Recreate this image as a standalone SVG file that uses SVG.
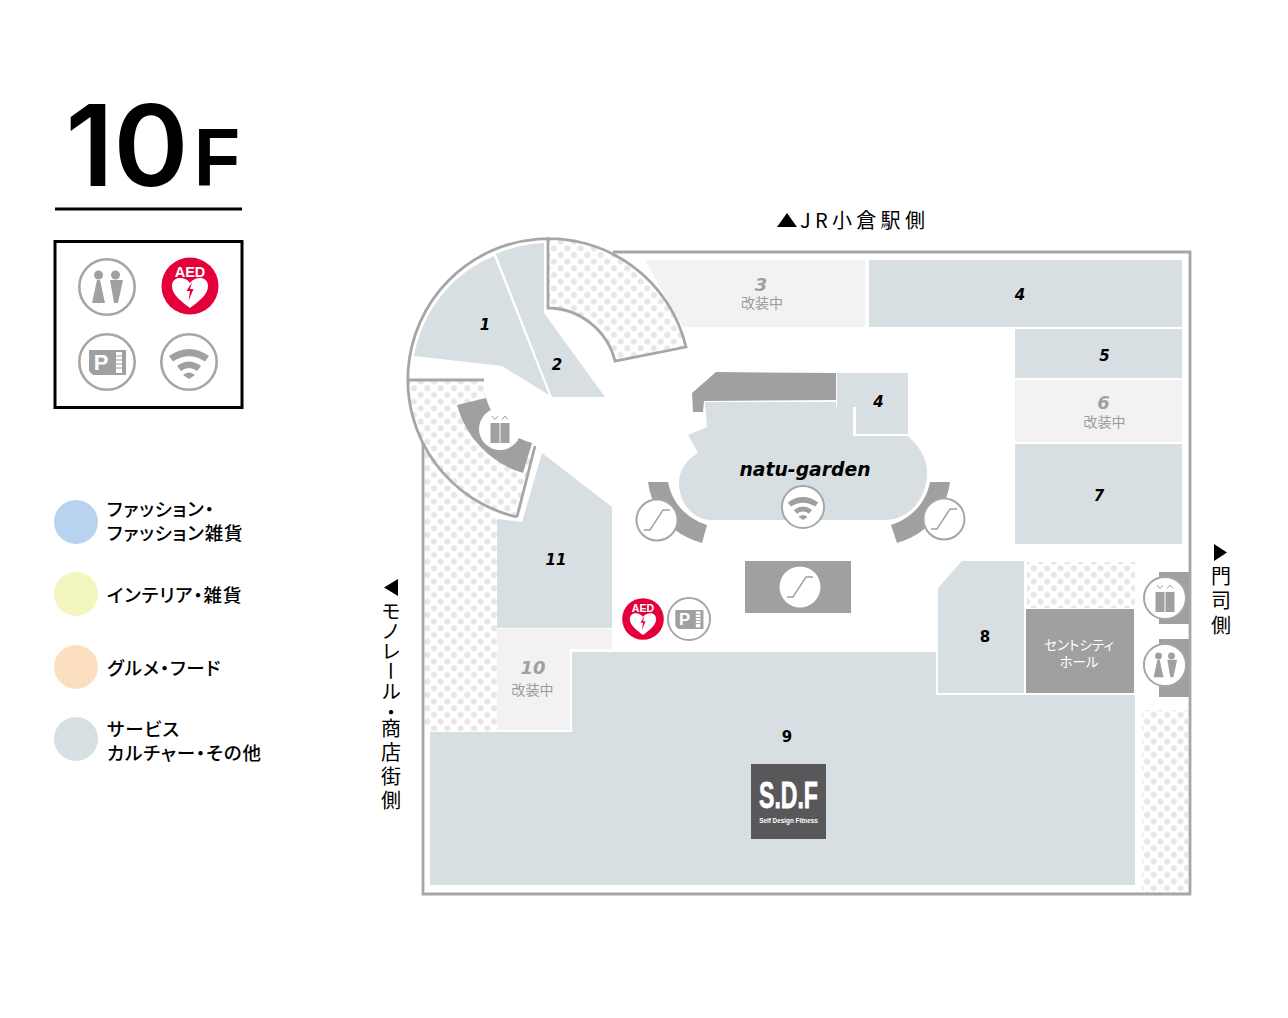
<svg xmlns="http://www.w3.org/2000/svg" width="1288" height="1018" viewBox="0 0 1288 1018">
<style>
.r{fill:#d7dfe2}.l{fill:#f2f2f2}.d{fill:#a0a0a0}.s{fill:url(#dots)}
.n{font-family:"DejaVu Sans",sans-serif;font-weight:700;font-style:italic;font-size:15px;text-anchor:middle;fill:#000}
.g{fill:#a0a0a0;font-size:18px}
.j{font-family:"Noto Sans CJK JP",sans-serif;fill:#000}
.k{font-size:14px;fill:#9a9a9a;text-anchor:middle}
.leg{font-size:18.500px;font-weight:500;font-feature-settings:"palt";letter-spacing:.9px}
.v{font-size:20px;writing-mode:vertical-rl}
.o{fill:none;stroke:#a6a6a6;stroke-width:2.800}
.h{font-size:13.500px;fill:#fff;text-anchor:middle;font-feature-settings:"palt"}
</style>
<defs>
<pattern id="dots" width="13.33" height="13.33" patternUnits="userSpaceOnUse" x="10.8" y="11.8">
<rect width="13.33" height="13.33" fill="#fff"/>
<circle cx="3.300" cy="3.300" r="3" fill="#e6e6e6"/><circle cx="9.970" cy="9.970" r="3" fill="#e6e6e6"/>
</pattern>
<g id="ring"><circle r="27.700" fill="#fff" stroke="#a6a6a6" stroke-width="2.600"/></g>
<g id="wc"><use href="#ring"/><circle cx="-8.500" cy="-12" r="4.500" fill="#a0a0a0"/><circle cx="8.500" cy="-12" r="4.500" fill="#a0a0a0"/><path d="M-10-7H-7L-2 16H-15ZM3-7H16L11 16H7Z" fill="#a0a0a0"/></g>
<g id="wifi"><use href="#ring"/><path d="M-20-6Q0-20 20-6L16-.5Q0-11-16-.5ZM-12 4Q0-5 12 4L8 9Q0 3-8 9ZM-6 13Q0 8 6 13L0 17Z" fill="#a0a0a0"/></g>
<g id="park"><use href="#ring"/><path d="M-18-12H19V13H-14L-18 9Z" fill="#a0a0a0"/><rect x="9" y="-10" width="6" height="21" fill="#fff"/><path d="M9-6H15M9-2H15M9 2H15M9 6H15" stroke="#a0a0a0" stroke-width="1.200"/><text x="-6" y="8" font-family="Liberation Sans,sans-serif" font-weight="700" font-size="22" fill="#fff" text-anchor="middle">P</text></g>
<g id="aed"><circle r="28.500" fill="#e5003c"/><text y="-9.500" font-family="Liberation Sans,sans-serif" font-size="14.500" font-weight="700" fill="#fff" text-anchor="middle">AED</text><path d="M0 22C-9 15-18 9-18 0C-18-10-5-10 0-3C5-10 18-10 18 0C18 9 9 15 0 22Z" fill="#fff"/><path d="M2-4-3.500 5H0L-1.500 15 3.500 3H0Z" fill="#e5003c"/></g>
<g id="lift"><path d="M-9.500-6H-.5V14H-9.500ZM.5-6H9.500V14H.5Z" fill="#a0a0a0"/><path d="M-8-13-5-9.500-2-13M2-9.500 5-13 8-9.500" fill="none" stroke="#a0a0a0" stroke-width="1"/></g>
<path id="esc" d="M-13 10H-7L6-10H13" fill="none" stroke="#a0a0a0" stroke-width="1.400"/>
</defs>

<g id="title">
<text x="65.500" y="186" font-family="Inter,sans-serif" font-size="113" font-weight="600" textLength="123" lengthAdjust="spacingAndGlyphs">10</text>
<text transform="translate(194 186) scale(.93 1)" font-family="Liberation Sans,sans-serif" font-size="81" font-weight="700">F</text>
<rect x="55" y="207.500" width="187" height="3"/>
</g>
<g id="facilities">
<rect x="55" y="241.500" width="187" height="166" fill="#fff" stroke="#000" stroke-width="3"/>
<use href="#wc" x="107" y="287"/><use href="#aed" x="190" y="286"/><use href="#park" x="107" y="362"/><use href="#wifi" x="189" y="362"/>
</g>
<g id="legend">
<circle cx="76" cy="522" r="22" fill="#b8d3ef"/><circle cx="76" cy="594" r="22" fill="#f2f5bd"/><circle cx="76" cy="667" r="22" fill="#fbdfc0"/><circle cx="76" cy="739" r="22" fill="#d7dfe2"/>
<text class="j leg" x="107" y="516">ファッション・</text><text class="j leg" x="107" y="540">ファッション雑貨</text>
<text class="j leg" x="107" y="602">インテリア・雑貨</text>
<text class="j leg" x="107" y="675">グルメ・フード</text>
<text class="j leg" x="107" y="736">サービス</text><text class="j leg" x="107" y="760">カルチャー・その他</text>
</g>

<g id="directions">
<path d="M777 227 787 213 797 227Z"/><text class="j" x="800" y="228" font-size="20" letter-spacing="4.300">JR小倉駅側</text>
<path d="M398 579V596L384 587.500Z"/><text class="j v" x="391" y="601"><tspan letter-spacing=".2">モノレール</tspan><tspan letter-spacing="-4.500">・</tspan><tspan letter-spacing="4.300">商店街側</tspan></text>
<path d="M1214 544V561L1227 552.500Z"/><text class="j v" x="1221" y="566" letter-spacing="4.500">門司側</text>
</g>

<g id="floor">
<rect class="s" x="424" y="440" width="73" height="291"/>
<rect class="s" x="1142" y="710" width="46" height="183"/>
<rect class="s" x="1027" y="562" width="108" height="46"/>
<path class="l" d="M645 260H865V327H683Z"/>
<rect id="shop4a" class="r" x="869" y="260" width="313" height="67"/>
<rect id="shop5" class="r" x="1015" y="329" width="167" height="49"/>
<rect id="shop6" class="l" x="1015" y="380" width="167" height="62"/>
<rect id="shop7" class="r" x="1015" y="444" width="167" height="100"/>
<path id="shop1" class="r" d="M494 256A134 134 0 0 0 414 356L502 366 549 395Z"/>
<path id="shop2" class="r" d="M496 254A136 136 0 0 1 544 243V313L605 397H552Z"/>
<path id="shop11" class="r" d="M542 453 612 507V628H497V519L522 522Z"/>
<path id="shop10" class="l" d="M497 629H612V649H570V730H497Z"/>
<path id="shop9" class="r" d="M430 732H572V652H936V695H1135V885H430Z"/>
<path id="shop8" class="r" d="M962 561H1024V693H938V588Z"/>
<rect id="hall" class="d" x="1026" y="609" width="108" height="84"/>
<path id="shop4b" class="r" d="M837 373H908V434H856V407H837Z"/>
<path id="garden" class="r" d="M705 402H836V407H853V436H908C920 447 928 460 927 475C926 500 908 520 885 520H712C693 520 679 503 679 483C679 470 687 459 698 453L688 435 707 427Z"/>
<path class="d" d="M716 372 836 373V400L704 401 703 412H693L692 393Z"/>
<path class="d" d="M648 482H668C672 503 686 518 707 525L702 543C672 535 652 512 648 482Z"/>
<path class="d" d="M930 482H950C946 512 926 535 897 543L891 525C912 518 926 503 930 482Z"/>
<rect class="d" x="745" y="561" width="106" height="52"/>
<rect class="d" x="1159" y="572" width="30" height="52"/><rect class="d" x="1159" y="639" width="30" height="58"/>
<path class="s" d="M548 237A141 141 0 0 1 686 347L615 361A70 70 0 0 0 548 308Z"/>
<path class="s" d="M408 381H483L486 398A65 65 0 0 0 532 443L535 446 517 517A141 141 0 0 1 408 381Z"/>
<path class="d" d="M457 405 486 398A65 65 0 0 0 532 443L523 473A97 97 0 0 1 457 405Z"/>
</g>

<g id="walls">
<path class="o" d="M613 252H1190V894H423V443"/>
<path class="o" d="M517 517A141 141 0 1 1 686 347L615 361A70 70 0 0 0 548 308V237"/>
<path class="o" d="M408 380H484M535 446 517 517"/>
</g>

<g id="icons">
<g transform="translate(500 429)"><circle r="21" fill="#fff"/><use href="#lift"/></g>
<g transform="translate(657 520)"><circle r="20.500" fill="#fff" stroke="#a6a6a6" stroke-width="2"/><use href="#esc"/></g>
<g transform="translate(944 519)"><circle r="20.500" fill="#fff" stroke="#a6a6a6" stroke-width="2"/><use href="#esc"/></g>
<g transform="translate(800 587)"><circle r="20.500" fill="#fff"/><use href="#esc"/></g>
<use href="#wifi" transform="translate(803 507) scale(.76)"/>
<use href="#aed" transform="translate(643 619) scale(.73)"/>
<use href="#park" transform="translate(689 619) scale(.76)"/>
<g transform="translate(1165 598)"><circle r="21" fill="#fff" stroke="#a6a6a6" stroke-width="2"/><use href="#lift"/></g>
<use href="#wc" transform="translate(1165 665) scale(.76)"/>
</g>

<g id="labels">
<text class="n" x="485" y="330">1</text><text class="n" x="557" y="370">2</text>
<text class="n g" x="761" y="290.500">3</text><text class="j k" x="762" y="308">改装中</text>
<text class="n" x="1020" y="300">4</text><text class="n" x="878.500" y="406.500">4</text>
<text class="n" x="1104.500" y="361">5</text>
<text class="n g" x="1103.500" y="409">6</text><text class="j k" x="1104.500" y="427">改装中</text>
<text class="n" x="1099" y="501">7</text>
<text class="n" x="985" y="642" style="font-style:normal">8</text>
<text class="n" x="787" y="741.500" style="font-style:normal">9</text>
<text class="n g" x="533" y="674">10</text><text class="j k" x="532.500" y="695">改装中</text>
<text class="n" x="556" y="565">11</text>
<text x="805" y="476" font-family="DejaVu Sans,sans-serif" font-weight="700" font-style="italic" font-size="19" text-anchor="middle" textLength="131" lengthAdjust="spacingAndGlyphs">natu-garden</text>
<text class="j h" x="1079" y="650">セントシティ</text>
<text class="j h" x="1079" y="666.500">ホール</text>
</g>

<g id="sdf">
<rect x="751" y="764" width="75" height="75" fill="#58585a"/>
<text transform="translate(788.500 808) scale(.64 1)" font-family="Liberation Sans,sans-serif" font-weight="700" font-size="36" fill="#fff" stroke="#fff" stroke-width=".8" text-anchor="middle">S.D.F</text>
<text transform="translate(788.500 822.500) scale(.85 1)" font-family="Liberation Sans,sans-serif" font-weight="700" font-size="7.500" fill="#fff" text-anchor="middle">Self Design Fitness</text>
</g>
</svg>
